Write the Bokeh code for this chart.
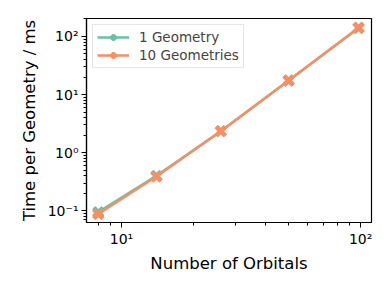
from bokeh.plotting import figure
from bokeh.models import FixedTicker, Legend, LegendItem
from bokeh.embed import file_html
from bokeh.resources import INLINE

orbitals = [8, 14, 26, 50, 98]
time_1geom = [0.095, 0.40, 2.35, 17.5, 140]
time_10geom = [0.088, 0.39, 2.35, 17.5, 142]

x_ticks = [10, 100]
x_tick_labels = {10: "10¹", 100: "10²"}
y_ticks = [0.1, 1, 10, 100]
y_tick_labels = {0.1: "10⁻¹", 1: "10⁰", 10: "10¹", 100: "10²"}

FONT = "DejaVu Sans"

p = figure(width=374, height=276, x_axis_type="log", y_axis_type="log",
           x_range=(7.14, 111), y_range=(0.063, 204),
           output_backend="svg", toolbar_location=None,
           min_border_left=86, min_border_right=3, min_border_top=18, min_border_bottom=54)

p.xgrid.visible = False
p.ygrid.visible = False
p.outline_line_color = "black"
p.outline_line_width = 1.2

x_minor = [m * 10 ** e for e in range(0, 3) for m in range(2, 10)]
y_minor = [m * 10.0 ** e for e in range(-2, 3) for m in range(2, 10)]
p.xaxis.ticker = FixedTicker(ticks=x_ticks, minor_ticks=x_minor)
p.yaxis.ticker = FixedTicker(ticks=y_ticks, minor_ticks=y_minor)
p.xaxis.major_label_overrides = x_tick_labels
p.yaxis.major_label_overrides = y_tick_labels

for ax in (p.xaxis, p.yaxis):
    ax.axis_line_color = "black"
    ax.axis_line_width = 1.2
    ax.major_tick_in = 0
    ax.major_tick_out = 5
    ax.minor_tick_in = 0
    ax.minor_tick_out = 3
    ax.major_label_text_font = FONT
    ax.major_label_text_font_size = "14px"
    ax.major_label_text_color = "black"
    ax.major_label_standoff = 3
    ax.axis_label_text_font = FONT
    ax.axis_label_text_font_size = "16.5px"
    ax.axis_label_text_font_style = "normal"
    ax.axis_label_text_color = "black"

p.xaxis.axis_label = "Number of Orbitals"
p.yaxis.axis_label = "Time per Geometry / ms"
p.xaxis.axis_label_standoff = 4
p.yaxis.axis_label_standoff = 6

c1 = "#66c2a5"
c2 = "#fc8d62"
l1 = p.line(orbitals, time_1geom, line_color=c1, line_width=2.5)
m1 = p.scatter(orbitals, time_1geom, marker="x", size=13, line_color=c1, line_width=4.5)
l2 = p.line(orbitals, time_10geom, line_color=c2, line_width=2.5)
m2 = p.scatter(orbitals, time_10geom, marker="x", size=13, line_color=c2, line_width=4.5)

legend = Legend(items=[LegendItem(label="1 Geometry", renderers=[l1, m1]),
                       LegendItem(label="10 Geometries", renderers=[l2, m2])],
                location="top_left")
legend.margin = 6
legend.padding = 4
legend.spacing = 2
legend.glyph_width = 32
legend.glyph_height = 16
legend.label_standoff = 10
legend.label_text_font = FONT
legend.label_text_font_size = "13.5px"
legend.border_line_color = "#cccccc"
legend.border_line_width = 1
legend.background_fill_alpha = 0.8
p.add_layout(legend)

open("out.html", "w").write(file_html(p, INLINE))
